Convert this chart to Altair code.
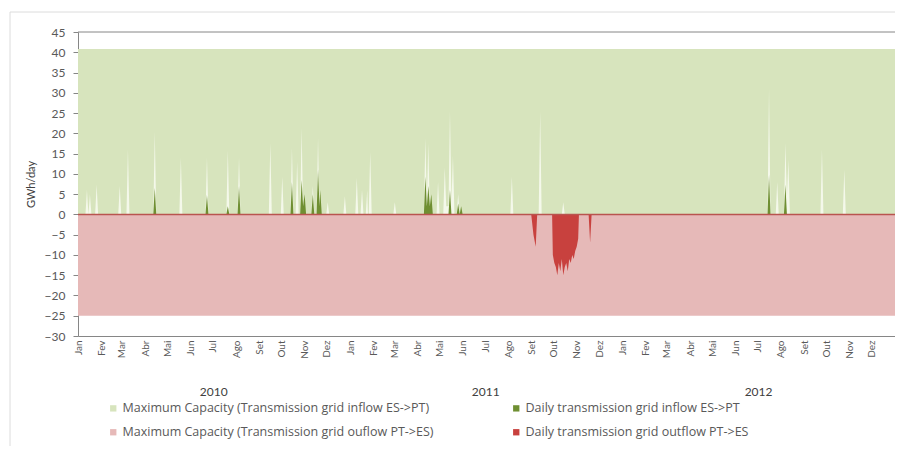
import altair as alt
import pandas as pd
from datetime import date, timedelta

START = date(2010, 1, 1)
END_DAY = 1096  # 2013-01-01

months_pt = ["Jan", "Fev", "Mar", "Abr", "Mai", "Jun", "Jul", "Ago", "Set", "Out", "Nov", "Dez"]
years = ["2010", "2011", "2012"]
year_mid_days = [182, 547, 913]
y_ticks = list(range(-30, 50, 5))

# legend order (filled column by column)
series_names = [
    "Maximum Capacity (Transmission grid inflow ES->PT)",
    "Maximum Capacity (Transmission grid ouflow PT->ES)",
    "Daily transmission grid inflow ES->PT",
    "Daily transmission grid outflow PT->ES",
]
series_colors = ["#d7e4bd", "#e6b9b8", "#6f8f32", "#c8413e"]

cap_in_days = [0, END_DAY]
cap_in_vals = [40.8, 40.8]
cap_out_days = [0, END_DAY]
cap_out_vals = [-25.0, -25.0]

# light (white) spikes: day offset from 2010-01-01, GWh/day
white_days = [0, 10, 12, 14, 16, 18, 23, 25, 27,
              54, 56, 58, 65, 67, 69,
              101, 103, 105, 136, 138, 140, 171, 173, 175,
              199, 201, 203, 214, 216, 218, 256, 258, 260, 272, 274, 276,
              285, 287, 289, 292, 294, 296, 298, 300, 302,
              313, 315, 317, 320, 322, 324, 333, 335, 337, 356, 358, 360,
              372, 374, 376, 379, 381, 383, 386, 388, 389, 390, 392, 394,
              423, 425, 427, 464, 466, 468, 470, 472, 481, 483, 485,
              490, 492, 494, 497, 499, 501, 503, 505, 508, 510, 512,
              580, 582, 584, 618, 620, 622, 649, 651, 653,
              925, 927, 929, 936, 938, 940, 947, 949, 951, 953, 955,
              996, 998, 1000, 1026, 1028, 1030, END_DAY]
white_vals = [0, 0, 6, 0, 5, 0, 0, 7.3, 0,
              0, 7, 0, 0, 16, 0,
              0, 20.4, 0, 0, 14, 0, 0, 14, 0,
              0, 15.7, 0, 0, 14, 0, 0, 17.6, 0, 0, 9.3, 0,
              0, 16.4, 0, 0, 13, 0, 0, 21.3, 0,
              0, 7, 0, 0, 18.8, 0, 0, 3, 0, 0, 4.5, 0,
              0, 9, 0, 0, 6, 0, 0, 6, 0, 0, 15.4, 0,
              0, 3, 0, 0, 18.8, 3, 17.5, 0, 0, 8, 0,
              0, 11.6, 2, 2, 25.4, 3, 14.5, 0, 0, 5, 0,
              0, 9.3, 0, 0, 25.4, 0, 0, 3, 0,
              0, 31, 0, 0, 8, 0, 0, 17.6, 4, 13.5, 0,
              0, 16, 0, 0, 11, 0, 0]

green_days = [0, 101, 103, 105, 171, 173, 175, 199, 201, 203, 214, 216, 218,
              285, 287, 289, 298, 300, 302, 304, 306,
              313, 315, 317, 320, 322, 324, 325, 327,
              464, 466, 468, 470, 472, 474, 476, 497, 499, 501,
              508, 510, 512, 514, 516, 925, 927, 929, 947, 949, 951, END_DAY]
green_vals = [0, 0, 6.5, 0, 0, 4.8, 0, 0, 2, 0, 0, 7, 0,
              0, 8, 0, 0, 8.5, 2, 5, 0,
              0, 5, 0, 0, 11, 2, 6, 0,
              0, 9.3, 2, 7, 2, 5, 0, 0, 6, 0,
              0, 2.7, 0, 2, 0, 0, 9.8, 0, 0, 7.3, 0, 0]

red_days = [0, 608, 611, 614, 616, 636, 637, 639, 641, 643, 645, 647, 649, 651,
            653, 655, 657, 659, 661, 663, 665, 667, 669, 671, 672, 685, 687, 689, END_DAY]
red_vals = [0, 0, -5, -8, 0, 0, -10, -12, -13, -15, -12, -14, -11, -15,
            -13, -12, -14, -11, -12, -10, -11, -9, -8, -6, 0, 0, -7, 0, 0]


def day_str(d):
    return (START + timedelta(days=int(d))).isoformat()


def frame(days, vals, series=None):
    df = pd.DataFrame({"date": [day_str(d) for d in days], "v": vals})
    if series is not None:
        df["series"] = series
    return df


label_expr = ("utcyear(datum.value) > 2012 ? '' : ["
              + ",".join("'" + m + "'" for m in months_pt)
              + "][utcmonth(datum.value)]")

x_enc = alt.X(
    "date:T",
    title=None,
    scale=alt.Scale(type="utc", nice=False,
                    domain=[alt.DateTime(year=2010, month=1, date=1, utc=True),
                            alt.DateTime(year=2013, month=1, date=1, utc=True)]),
    axis=alt.Axis(labelExpr=label_expr, labelAngle=270,
                  tickCount=alt.TimeIntervalStep(interval="month", step=1),
                  labelFontSize=10, labelColor="#595959", labelPadding=4,
                  ticks=False, domainColor="#868686", grid=False,
                  labelOverlap=False, labelFlush=False),
)
y_enc = alt.Y(
    "v:Q",
    stack=None,
    scale=alt.Scale(domain=[-30, 45], nice=False, zero=False),
    axis=alt.Axis(values=y_ticks, title="GWh/day", grid=False,
                  labelFontSize=12, labelColor="#595959", labelPadding=8,
                  tickSize=5, tickColor="#868686", domainColor="#868686",
                  titleFontSize=11, titleFontWeight="normal", titleColor="#404040",
                  titlePadding=8),
)
color_enc = alt.Color(
    "series:N",
    scale=alt.Scale(domain=series_names, range=series_colors),
    legend=alt.Legend(title=None, orient="none", legendX=29, legendY=370,
                      columns=2, symbolType="square", symbolSize=40,
                      symbolStrokeWidth=0, labelFont="Open Sans", labelFontSize=12.5,
                      labelColor="#595959", labelLimit=600, labelOffset=3,
                      columnPadding=76, rowPadding=11, padding=0),
)

cap_in = alt.Chart(frame(cap_in_days, cap_in_vals, series_names[0])).mark_area(
    opacity=1).encode(x=x_enc, y=y_enc, color=color_enc)
cap_out = alt.Chart(frame(cap_out_days, cap_out_vals, series_names[1])).mark_area(
    opacity=1).encode(x=x_enc, y=y_enc, color=color_enc)
white = alt.Chart(frame(white_days, white_vals)).mark_area(
    opacity=1, color="#f4f8ea").encode(x=x_enc, y=y_enc)
green = alt.Chart(frame(green_days, green_vals, series_names[2])).mark_area(
    opacity=1).encode(x=x_enc, y=y_enc, color=color_enc)
red = alt.Chart(frame(red_days, red_vals, series_names[3])).mark_area(
    opacity=1).encode(x=x_enc, y=y_enc, color=color_enc)

zero_line = alt.Chart(pd.DataFrame({"v": [0]})).mark_rule(
    color="#b9544f", strokeWidth=1.5).encode(y=y_enc)
top_line = alt.Chart(pd.DataFrame({"v": [45]})).mark_rule(
    color="#868686", strokeWidth=1).encode(y=y_enc)

year_text = alt.Chart(pd.DataFrame({"date": [day_str(d) for d in year_mid_days],
                                    "label": years})).mark_text(
    fontSize=12, color="#404040", baseline="middle").encode(
    x=x_enc, y=alt.value(360), text="label:N")

frame_left = alt.Chart(pd.DataFrame({"v": [0]})).mark_rule(
    color="#dcdcdc", strokeWidth=1).encode(
    x=alt.value(-68), y=alt.value(-20), y2=alt.value(430))
frame_top = alt.Chart(pd.DataFrame({"v": [0]})).mark_rule(
    color="#dcdcdc", strokeWidth=1).encode(
    x=alt.value(-68), x2=alt.value(830), y=alt.value(-20))

chart = alt.layer(cap_in, cap_out, white, green, red, zero_line, top_line,
                  year_text, frame_left, frame_top).properties(
    width=817, height=304,
    padding={"left": 70, "top": 24, "right": 0, "bottom": 110},
    autosize=alt.AutoSizeParams(type="none"),
).configure(font="Lato").configure_view(stroke=None)

chart.save("out.html", embed_options={"renderer": "svg", "actions": False})
